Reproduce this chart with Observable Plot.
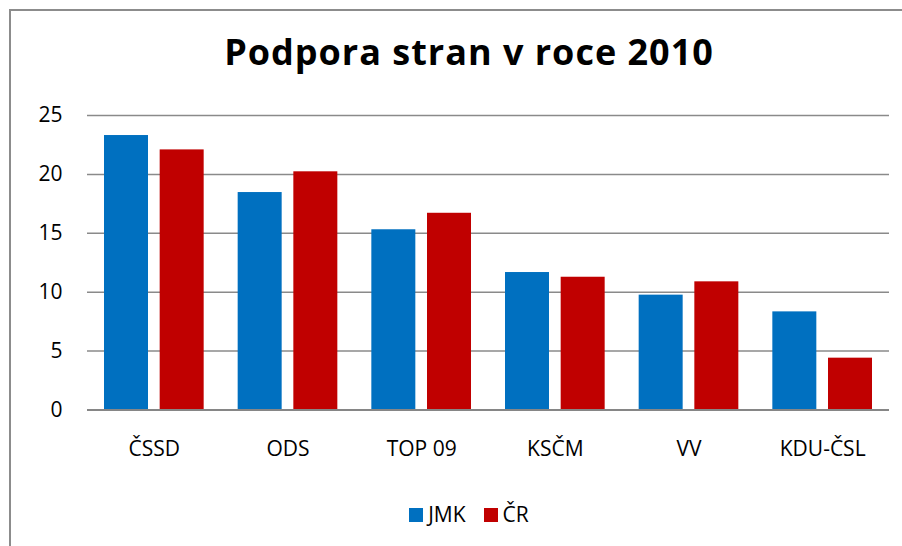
<!DOCTYPE html>
<html><head><meta charset="utf-8">
<script src="https://cdn.jsdelivr.net/npm/d3@7"></script>
<script src="https://cdn.jsdelivr.net/npm/@observablehq/plot@0.6"></script>
<style>
body{margin:0;background:#fff;width:902px;height:546px;overflow:hidden;position:relative;font-family:"Open Sans",sans-serif;}
#frame{position:absolute;left:9px;top:9px;width:1000px;height:1000px;border-left:2.5px solid #8c8c8c;border-top:2.5px solid #8c8c8c;}
#title{position:absolute;left:0;width:938px;top:34px;text-align:center;font-weight:700;font-size:36px;line-height:36px;letter-spacing:1px;color:#000;}
#chart{position:absolute;left:0;top:0;}
#legend{position:absolute;left:0;width:938px;top:504px;display:flex;justify-content:center;align-items:center;font-size:21px;line-height:21px;color:#000;}
.item{display:flex;align-items:center;margin:0 9px;}
.sw{width:14px;height:14px;margin-right:5px;}
</style></head>
<body>
<div id="frame"></div>
<div id="title">Podpora stran v roce 2010</div>
<div id="chart"></div>
<div id="legend"></div>
<script>
const categories = ["ČSSD", "ODS", "TOP 09", "KSČM", "VV", "KDU-ČSL"];
const seriesNames = ["JMK", "ČR"];
const jmk = [23.3, 18.46, 15.3, 11.67, 9.75, 8.33];
const cr = [22.08, 20.22, 16.7, 11.27, 10.88, 4.4];
const yTicks = [0, 5, 10, 15, 20, 25];
const colors = ["#0070C0", "#C00000"];

const jmkData = categories.map((c, i) => ({party: c, value: jmk[i]}));
const crData = categories.map((c, i) => ({party: c, value: cr[i]}));

const chart = Plot.plot({
  width: 902,
  height: 480,
  marginLeft: 87,
  marginRight: 13,
  marginTop: 115,
  marginBottom: 70.5,
  x: {domain: categories, padding: 0, round: false, label: null, tickSize: 0, tickPadding: 31},
  y: {domain: [0, 25], ticks: yTicks, label: null, tickSize: 0, tickPadding: 25},
  style: {fontFamily: "'Open Sans', sans-serif", fontSize: "21px", color: "#000", background: "transparent"},
  marks: [
    Plot.ruleY(yTicks, {stroke: "#8a8a8a", strokeWidth: 1.5}),
    Plot.barY(jmkData, {x: "party", y: "value", fill: colors[0], insetLeft: 17, insetRight: 72.67}),
    Plot.barY(crData, {x: "party", y: "value", fill: colors[1], insetLeft: 72.67, insetRight: 17}),
    Plot.ruleY([0], {stroke: "#868686", strokeWidth: 2})
  ]
});
document.getElementById("chart").appendChild(chart);

const legend = document.getElementById("legend");
seriesNames.forEach((name, i) => {
  const item = document.createElement("div");
  item.className = "item";
  const sw = document.createElement("div");
  sw.className = "sw";
  sw.style.background = colors[i];
  const label = document.createElement("span");
  label.textContent = name;
  item.appendChild(sw);
  item.appendChild(label);
  legend.appendChild(item);
});
</script>
</body></html>
